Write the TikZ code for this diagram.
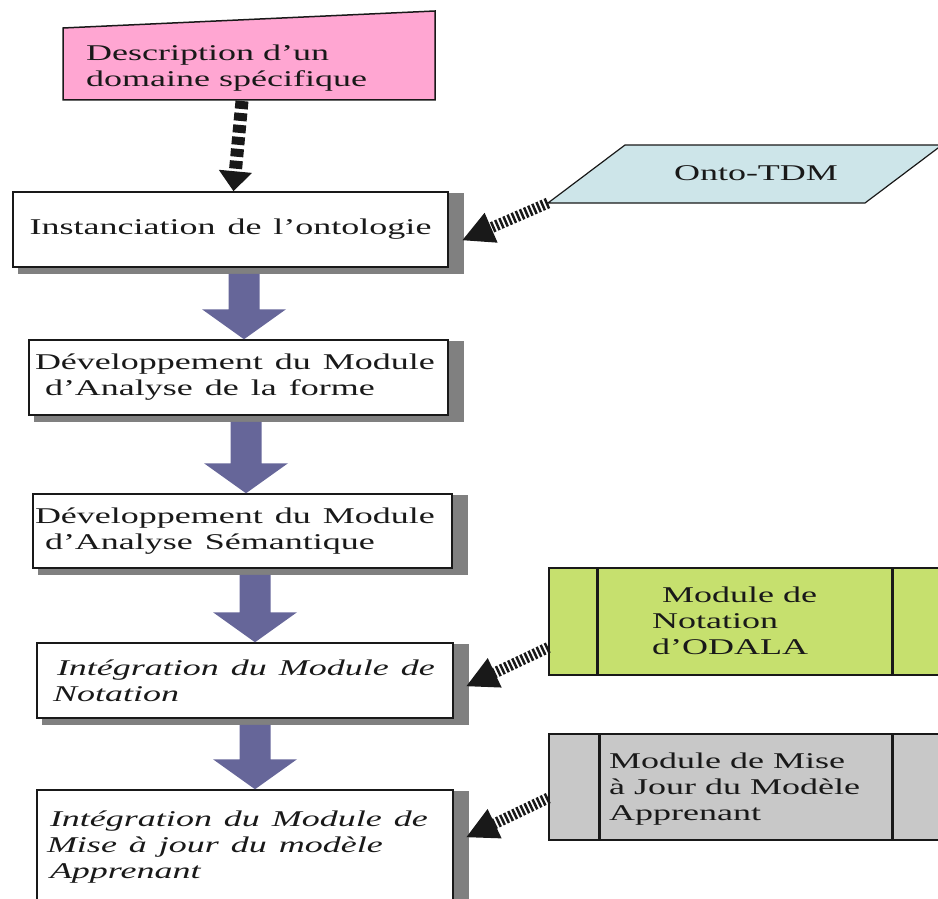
\documentclass[tikz,border=0pt]{standalone}
\usepackage{fontspec}
\setmainfont{Liberation Serif}
\usepackage{graphicx}
\usetikzlibrary{arrows.meta,calc,backgrounds}

\definecolor{pinkfill}{RGB}{255,166,210}
\definecolor{ontofill}{RGB}{205,229,233}
\definecolor{notefill}{RGB}{198,224,110}
\definecolor{updfill}{RGB}{200,200,200}
\definecolor{flowfill}{RGB}{102,102,153}
\definecolor{shadowgray}{RGB}{128,128,128}
\definecolor{ink}{RGB}{25,25,25}

% wide setting of the labels
\newcommand\widetxt[1]{\scalebox{1.6}[1]{#1}}

\begin{document}
\begin{tikzpicture}[x=1pt,y=-1pt,
  txt/.style={font=\fontsize{22.5}{26}\selectfont, inner sep=0pt, text=ink},
  stepbox/.style={draw=ink, line width=1.5pt, fill=white, text=ink,
    font=\fontsize{22.5}{26}\selectfont, align=left, inner ysep=0pt},
  procbox/.style={draw=ink, line width=1.5pt},
  procline/.style={draw=ink, line width=3pt},
  dotarrow/.style={draw=ink, line width=13pt, dash pattern=on 8pt off 4pt,
    -{Triangle[length=20pt,width=32pt]}},
  hatcharrow/.style={draw=ink, line width=11pt, dash pattern=on 2.5pt off 2pt,
    -{Triangle[length=32pt,width=30pt]}},
]
\useasboundingbox (0,0) rectangle (938,899);

% ---------- source description (manual input shape) ----------
\filldraw[fill=pinkfill, draw=ink, line width=1.5pt]
  (63,28) -- (435,11) -- (435,100) -- (63,100) -- cycle;
\node[txt, anchor=west, align=left] (desc) at (86,68)
  {\widetxt{Description d’un}\\\widetxt{domaine spécifique}};
\coordinate (descb) at (242,101);

% ---------- main steps ----------
\node[stepbox, align=center, minimum width=435, minimum height=75,
  text width=425, inner xsep=5] (b1) at (230.5,229.5)
  {\widetxt{Instanciation de l’ontologie}};
\node[stepbox, minimum width=419, minimum height=75,
  text width=407, inner xsep=6] (b2) at (238.5,377.5)
  {\widetxt{Développement du Module}\\\hspace*{10pt}\widetxt{d’Analyse de la forme}};
\node[stepbox, minimum width=419, minimum height=74,
  text width=415, inner xsep=2] (b3) at (242.5,531)
  {\widetxt{Développement du Module}\\\hspace*{10pt}\widetxt{d’Analyse Sémantique}};
\node[stepbox, font=\fontsize{22.5}{26}\selectfont\itshape,
  minimum width=416, minimum height=75,
  text width=384, inner xsep=16] (b4) at (245,680.5)
  {\hspace*{4pt}\widetxt{Intégration du Module de}\\\widetxt{Notation}};
\node[stepbox, font=\fontsize{22.5}{26}\selectfont\itshape,
  minimum width=416, minimum height=115,
  text width=396, inner xsep=10] (b5) at (245,847.5)
  {\hspace*{3pt}\widetxt{Intégration du Module de}\\\widetxt{Mise à jour du modèle}\\\hspace*{3pt}\widetxt{Apprenant}};

% drop shadows of the steps
\begin{scope}[on background layer]
  \foreach \n in {b1,b2,b3,b4,b5}
    \fill[shadowgray] ($(\n.north west)+(6,2)$) rectangle ($(\n.south east)+(15,6)$);
\end{scope}

% ---------- Onto-TDM (data shape) ----------
\filldraw[fill=ontofill, draw=ink, line width=1.2pt]
  (548,203) coordinate (ontob) -- (625,145) -- (942,145) -- (865,203) -- cycle;
\node[txt, anchor=base] (onto) at (756,180) {\widetxt{Onto-TDM}};

% ---------- predefined modules ----------
\node[procbox, fill=notefill, minimum width=431, minimum height=107] (gr) at (764.5,621.5) {};
\draw[procline] ($(gr.north west)+(49,0)$) -- ($(gr.south west)+(49,0)$);
\draw[procline] ($(gr.north west)+(344,0)$) -- ($(gr.south west)+(344,0)$);
\node[txt, anchor=west, align=left] (grt) at (652,621)
  {\hspace*{10pt}\widetxt{Module de}\\\widetxt{Notation}\\\widetxt{d’ODALA}};

\node[procbox, fill=updfill, minimum width=431, minimum height=106] (up) at (764.5,787) {};
\draw[procline] ($(up.north west)+(51,0)$) -- ($(up.south west)+(51,0)$);
\draw[procline] ($(up.north west)+(344,0)$) -- ($(up.south west)+(344,0)$);
\node[txt, anchor=west, align=left] (upt) at (609,789)
  {\widetxt{Module de Mise}\\\widetxt{à Jour du Modèle}\\\widetxt{Apprenant}};

% ---------- block arrows between the steps ----------
\foreach \a/\b/\x in {b1/b2/244, b2/b3/246, b3/b4/255, b4/b5/255} {
  \path (\x,0) coordinate (ax);
  \path (\a.south -| ax) coordinate (s);
  \path (\b.north -| ax) coordinate (t);
  \fill[flowfill] ($(s)+(-15.5,6)$) -- ($(t)+(-15.5,-30)$) -- ($(t)+(-42,-30)$)
    -- (t) -- ($(t)+(42,-30)$) -- ($(t)+(15.5,-30)$) -- ($(s)+(15.5,6)$) -- cycle;
}

% ---------- dashed inputs ----------
\draw[dotarrow] (descb) -- ($(b1.north)+(3,0)$);
\draw[hatcharrow] (ontob) -- ($(b1.east)+(13,11)$);
\draw[hatcharrow] ($(gr.west)+(0,26)$) -- ($(b4.east)+(12,6)$);
\draw[hatcharrow] ($(up.west)+(0,11)$) -- ($(b5.east)+(12,-10)$);
\end{tikzpicture}
\end{document}
